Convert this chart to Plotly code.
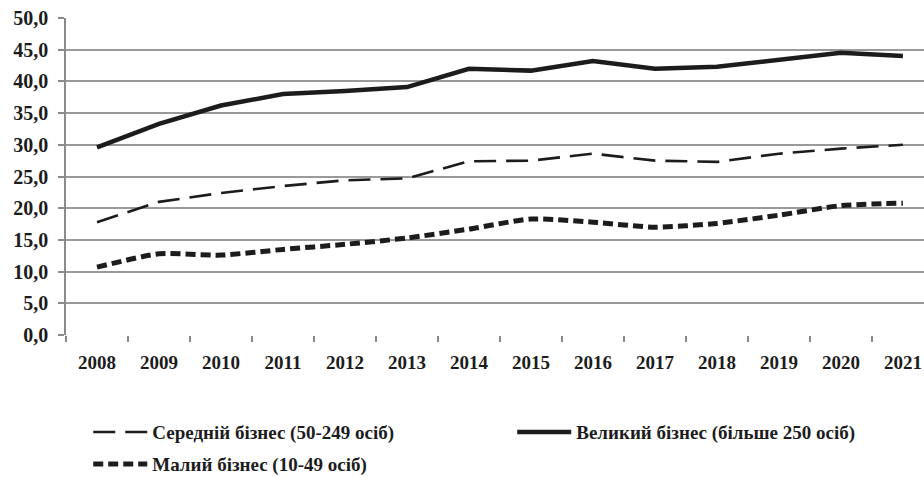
import plotly.graph_objects as go

years = ["2008", "2009", "2010", "2011", "2012", "2013", "2014",
         "2015", "2016", "2017", "2018", "2019", "2020", "2021"]
medium = [17.8, 21.0, 22.4, 23.5, 24.4, 24.7, 27.4, 27.5, 28.6, 27.5, 27.3, 28.6, 29.4, 30.0]
large = [29.6, 33.3, 36.2, 38.0, 38.5, 39.1, 42.0, 41.7, 43.2, 42.0, 42.3, 43.4, 44.5, 44.0]
small = [10.7, 12.8, 12.6, 13.5, 14.3, 15.3, 16.7, 18.3, 17.8, 17.0, 17.6, 18.9, 20.4, 20.8]

names = ["Середній бізнес (50-249 осіб)",
         "Великий бізнес (більше 250 осіб)",
         "Малий бізнес (10-49 осіб)"]
yticks = [0, 5, 10, 15, 20, 25, 30, 35, 40, 45, 50]

FONT = "Liberation Serif"
INK = "#1c1c1c"

fig = go.Figure()
fig.add_trace(go.Scatter(x=years, y=medium, name=names[0], mode="lines", legend="legend",
                         line=dict(color=INK, width=2.6, dash="22px,10px")))
fig.add_trace(go.Scatter(x=years, y=large, name=names[1], mode="lines", legend="legend",
                         line=dict(color=INK, width=4.5)))
fig.add_trace(go.Scatter(x=years, y=small, name=names[2], mode="lines", legend="legend2",
                         line=dict(color=INK, width=5, dash="10px,5px",
                                   shape="spline", smoothing=0.6)))

leg_font = dict(family=FONT, size=19, color=INK, weight="bold")

fig.update_layout(
    width=924, height=477,
    margin=dict(l=66, r=0, t=18, b=142, autoexpand=False),
    paper_bgcolor="white", plot_bgcolor="white",
    separators=", ",
    font=dict(family=FONT, size=19, color=INK),
    showlegend=True,
    legend=dict(orientation="h", xref="container", yref="container",
                x=0.0955, y=0.134, xanchor="left", yanchor="top",
                itemwidth=54, entrywidth=355, traceorder="normal",
                font=leg_font, bgcolor="rgba(0,0,0,0)"),
    legend2=dict(orientation="h", xref="container", yref="container",
                 x=0.0955, y=0.067, xanchor="left", yanchor="top",
                 itemwidth=54, font=leg_font, bgcolor="rgba(0,0,0,0)"),
    xaxis=dict(type="category", range=[-0.5, 13.34], showgrid=False,
               showline=False, ticks="outside", tickson="boundaries",
               ticklen=6, tickcolor="#8a8a8a", tickwidth=1.5, automargin=False,
               ticklabelstandoff=14, ticklabeloverflow="allow",
               tickfont=dict(family=FONT, size=19, color=INK, weight="bold"),
               fixedrange=True),
    yaxis=dict(range=[0, 50], tickvals=yticks, tickformat=".1f", automargin=False,
               showgrid=True, gridcolor="#9a9a9a", gridwidth=1.5,
               zeroline=False, showline=True, linecolor="#8a8a8a", linewidth=1.5,
               ticks="outside", ticklen=6, tickcolor="#8a8a8a", tickwidth=1.5,
               ticklabelstandoff=6, ticklabeloverflow="allow", fixedrange=True,
               tickfont=dict(family=FONT, size=20, color=INK, weight="bold")),
)

fig.write_html("out.html",
               config={"displayModeBar": False},
               post_script="document.body.style.margin='0';document.body.style.overflow='hidden';")
